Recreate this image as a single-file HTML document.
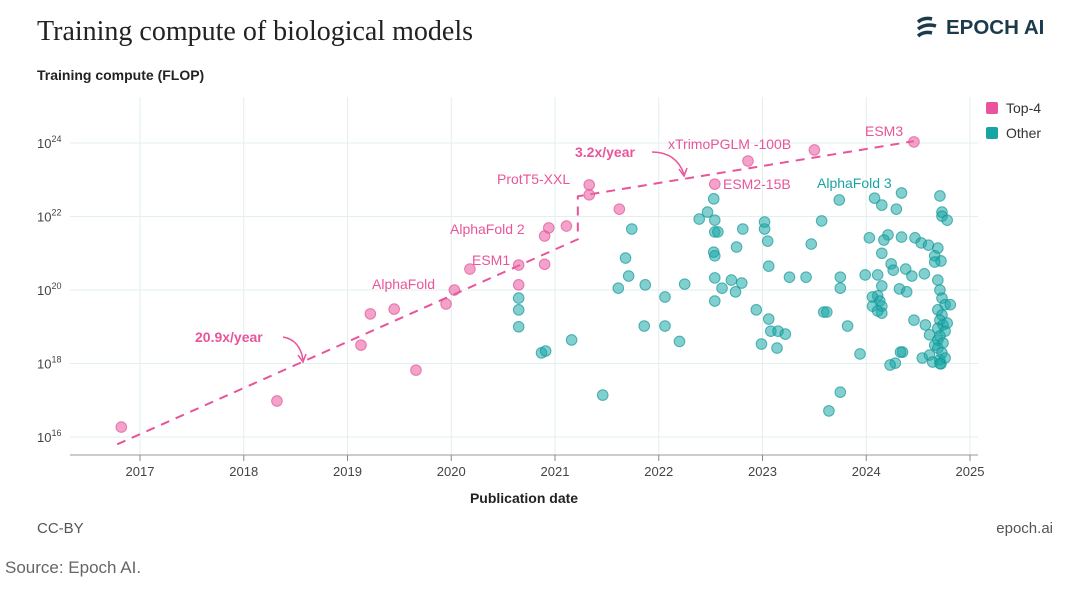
<!DOCTYPE html>
<html><head><meta charset="utf-8"><style>
body{margin:0;background:#fff;width:1080px;height:584px;overflow:hidden;font-family:"Liberation Sans",sans-serif;}
svg text{font-family:"Liberation Sans",sans-serif;}
</style></head><body>
<svg id="c" width="1080" height="584">
<text x="37" y="40" font-size="28" fill="#222" style="font-family:'Liberation Serif',serif">Training compute of biological models</text>
<g>
<path d="M918 22 q6 -5 14 -3 M918 29 q8 -6 18 -3 M918 36 q6 -5 14 -3" stroke="#1b3a4b" stroke-width="3.5" fill="none"/>
<text x="946" y="34" font-size="20.5" font-weight="bold" fill="#1b3a4b">EPOCH AI</text></g>
<text x="37" y="80" font-size="14" font-weight="bold" fill="#222">Training compute (FLOP)</text>
<g id="grid"></g><g id="lines"></g><g id="pts"></g><g id="ann"></g>
<text x="524" y="503" font-size="14" font-weight="bold" fill="#222" text-anchor="middle">Publication date</text>
<g>
<rect x="986" y="102" width="12" height="12" rx="2" fill="#e8559a"/>
<text x="1006" y="113" font-size="14" fill="#333">Top-4</text>
<rect x="986" y="127" width="12" height="12" rx="2" fill="#1aa3a3"/>
<text x="1006" y="138" font-size="14" fill="#333">Other</text></g>
<text x="37" y="533" font-size="15" fill="#555">CC-BY</text>
<text x="1053" y="533" font-size="15" fill="#555" text-anchor="end">epoch.ai</text>
<text x="5" y="573" font-size="17" fill="#666">Source: Epoch AI.</text>
</svg>
<script>
const xTicks=[2017,2018,2019,2020,2021,2022,2023,2024,2025];
const yTicks=[16,18,20,22,24];
const pinkYear=[2016.82,2018.32,2019.13,2019.22,2019.45,2019.66,2019.95,2020.03,2020.18,2020.65,2020.65,2020.9,2020.9,2020.94,2021.11,2021.33,2021.33,2021.62,2022.54,2022.86,2023.5,2024.46];
const pinkExp=[16.27,16.98,18.5,19.35,19.48,17.82,19.62,20.0,20.57,20.68,20.14,20.7,21.47,21.69,21.74,22.59,22.86,22.2,22.88,23.51,23.81,24.03];
const tealYear=[2020.65,2020.65,2020.65,2020.87,2020.91,2021.16,2021.46,2021.74,2021.68,2021.71,2021.61,2021.87,2021.86,2022.06,2022.06,2022.2,2022.25,2022.39,2022.47,2022.53,2022.54,2022.54,2022.57,2022.53,2022.54,2022.54,2022.54,2022.61,2022.7,2022.8,2022.74,2022.81,2022.75,2022.94,2022.99,2023.02,2023.02,2023.05,2023.06,2023.06,2023.08,2023.15,2023.14,2023.22,2023.74,2023.57,2023.47,2023.26,2023.42,2023.75,2023.75,2023.59,2023.62,2023.82,2023.94,2023.75,2023.64,2024.08,2024.15,2024.29,2024.34,2024.03,2024.21,2024.17,2024.34,2024.47,2024.53,2024.6,2024.69,2024.66,2024.72,2024.66,2024.15,2024.24,2024.26,2024.38,2024.44,2024.56,2023.99,2024.11,2024.15,2024.11,2024.13,2024.15,2024.15,2024.06,2024.06,2024.11,2024.32,2024.39,2024.46,2024.57,2024.61,2024.66,2024.69,2024.35,2024.33,2024.28,2024.23,2024.54,2024.61,2024.64,2024.71,2024.72,2024.71,2024.73,2024.73,2024.78,2024.69,2024.71,2024.73,2024.76,2024.69,2024.73,2024.71,2024.74,2024.69,2024.76,2024.71,2024.74,2024.69,2024.73,2024.76,2024.71,2024.81,2024.78];
const tealExp=[19.78,19.46,19.0,18.29,18.34,18.64,17.14,21.66,20.87,20.38,20.05,20.14,19.02,19.81,19.02,18.6,20.16,21.93,22.12,22.48,21.58,21.9,21.58,21.03,20.93,20.33,19.7,20.05,20.27,20.19,19.95,21.66,21.17,19.46,18.53,21.66,21.85,21.33,20.65,19.21,18.88,18.88,18.42,18.8,22.45,21.88,21.25,20.35,20.35,20.35,20.05,19.4,19.4,19.02,18.26,17.22,16.71,22.5,22.31,22.2,22.64,21.42,21.5,21.36,21.44,21.42,21.28,21.22,21.14,20.93,20.79,20.76,21.0,20.71,20.54,20.57,20.38,20.44,20.41,20.41,20.11,19.84,19.7,19.56,19.37,19.81,19.56,19.43,20.03,19.95,19.18,19.05,18.78,18.5,18.64,18.31,18.31,18.01,17.96,18.15,18.23,18.04,18.1,17.99,22.56,22.12,22.01,21.9,20.27,20.0,19.78,19.6,19.46,19.32,19.18,19.05,18.96,18.88,18.75,18.56,18.42,18.29,18.15,18.0,19.6,19.1];
const trendYear=[2016.78,2021.22,2021.22,2024.46];
const trendExp=[15.8,21.38,22.55,24.05];
const X=y=>140+(y-2017)*103.75, Y=e=>143+(24-e)*36.75;
const NS="http://www.w3.org/2000/svg";
function mk(t,a,p){const e=document.createElementNS(NS,t);for(const k in a)e.setAttribute(k,a[k]);p.appendChild(e);return e;}
const g=document.getElementById('grid');
const pl=mk('rect',{x:70,y:97,width:908,height:358,fill:'none'},g);


xTicks.forEach(t=>{
 const l=mk('line',{x1:X(t),x2:X(t),y1:97,y2:455,stroke:'#e2efef','stroke-width':1},g);
 
 
 mk('line',{x1:X(t),x2:X(t),y1:455,y2:461,stroke:'#888'},g);
 const tx=mk('text',{x:X(t),y:476,'font-size':13,fill:'#444','text-anchor':'middle'},g);tx.textContent=t;
 
 
});
yTicks.forEach(t=>{
 const l=mk('line',{x1:70,x2:978,y1:Y(t),y2:Y(t),stroke:'#e2efef','stroke-width':1},g);
 
 
 const tx=mk('text',{x:37,y:Y(t)+5,'font-size':13,fill:'#444'},g);
 tx.innerHTML='10<tspan dy="-6" font-size="9">'+t+'</tspan>';
 
 
});
const ax=mk('line',{x1:70,x2:978,y1:455,y2:455,stroke:'#999'},g);


const ln=document.getElementById('lines');
const tr=mk('polyline',{points:trendYear.map((v,i)=>X(v)+','+Y(trendExp[i])).join(' '),fill:'none',stroke:'#e8559a','stroke-width':2,'stroke-dasharray':'9 7'},ln);


const P=document.getElementById('pts');
tealYear.forEach((v,i)=>{
 const c=mk('circle',{cx:X(v),cy:Y(tealExp[i]),r:5.3,fill:'rgba(26,168,168,0.55)',stroke:'rgba(20,150,150,0.7)','stroke-width':1},P);
 
 
});
pinkYear.forEach((v,i)=>{
 const c=mk('circle',{cx:X(v),cy:Y(pinkExp[i]),r:5.3,fill:'rgba(235,100,165,0.6)',stroke:'rgba(225,80,150,0.7)','stroke-width':1},P);
 
 
});
const A=document.getElementById('ann');
const labels=[["AlphaFold",372,289,'#e8559a'],["AlphaFold 2",450,234,'#e8559a'],["ESM1",472,265,'#e8559a'],["ProtT5-XXL",497,184,'#e8559a'],["xTrimoPGLM -100B",668,149,'#e8559a'],["ESM2-15B",723,189,'#e8559a'],["ESM3",865,136,'#e8559a'],["AlphaFold 3",817,188,'#1aa3a3']];
labels.forEach(l=>{const t=mk('text',{x:l[1],y:l[2],'font-size':14,fill:l[3]},A);t.textContent=l[0];
 
 });
const r1=mk('text',{x:195,y:342,'font-size':14,'font-weight':'bold',fill:'#e8559a'},A);r1.textContent='20.9x/year';


const r2=mk('text',{x:575,y:157,'font-size':14,'font-weight':'bold',fill:'#e8559a'},A);r2.textContent='3.2x/year';


mk('path',{d:'M283 337 Q300 340 303 360',fill:'none',stroke:'#e8559a','stroke-width':1.5},A);
mk('path',{d:'M298 355 L303 362 L306 354',fill:'none',stroke:'#e8559a','stroke-width':1.5},A);
mk('path',{d:'M652 152 Q676 152 684 174',fill:'none',stroke:'#e8559a','stroke-width':1.5},A);
mk('path',{d:'M679 169 L684 176 L687 168',fill:'none',stroke:'#e8559a','stroke-width':1.5},A);
</script>
</body></html>
